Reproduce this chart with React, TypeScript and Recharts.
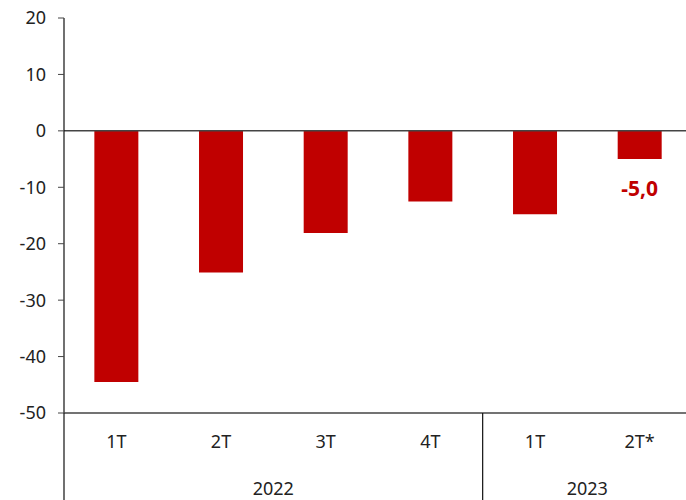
import { BarChart, Bar, XAxis, YAxis, ReferenceLine, LabelList } from 'recharts'

const QUARTERS = ['1T', '2T', '3T', '4T', '1T', '2T*']
const YEARS = ['2022', '2022', '2022', '2022', '2023', '2023']
const VALUES = [-44.5, -25.1, -18.1, -12.5, -14.8, -5.0]
const Y_TICKS = [-50, -40, -30, -20, -10, 0, 10, 20]

const W = 692
const H = 500
const Y_AXIS_W = 64
const BAND = (W - Y_AXIS_W) / QUARTERS.length
const FONT = '"Noto Sans", sans-serif'

const data = QUARTERS.map((q, i) => ({ quarter: q, year: YEARS[i], value: VALUES[i] }))

function QuarterTick(props: any) {
  const { x, index } = props
  const axisY = H - 87
  const q = QUARTERS[index]
  const year = YEARS[index]
  const firstOfYear = index === 0 || YEARS[index - 1] !== year
  const count = YEARS.filter(v => v === year).length
  return (
    <g>
      <text x={x} y={axisY + 28} textAnchor="middle" dominantBaseline="central"
        fill="#222" fontSize={18} fontFamily={FONT}>{q}</text>
      {firstOfYear && (
        <>
          <line x1={x - BAND / 2} x2={x - BAND / 2} y1={axisY} y2={H} stroke="#111" strokeWidth={1.2} />
          <text x={x - BAND / 2 + (BAND * count) / 2} y={axisY + 75} textAnchor="middle"
            dominantBaseline="central" fill="#222" fontSize={18} fontFamily={FONT}>{year}</text>
        </>
      )}
    </g>
  )
}

function LastLabel(props: any) {
  const { x, y, width, height, index, value } = props
  if (index !== VALUES.length - 1) return null
  const bottom = Math.max(y, y + height)
  return (
    <text x={x + width / 2} y={bottom + 29} textAnchor="middle" dominantBaseline="central"
      fill="#c00000" fontSize={21} fontWeight={700} fontFamily={FONT}>
      {value.toFixed(1).replace('.', ',')}
    </text>
  )
}

export default function App() {
  return (
    <div style={{ position: 'absolute', left: 0, top: 0, width: 686, height: 500, overflow: 'hidden', background: '#fff' }}>
      <BarChart width={W} height={H} data={data} margin={{ top: 18, right: 0, left: 0, bottom: 0 }} barCategoryGap="29%">
        <YAxis
          width={Y_AXIS_W}
          domain={[-50, 20]}
          ticks={Y_TICKS}
          interval={0}
          axisLine={{ stroke: '#111', strokeWidth: 1.2 }}
          tickLine={{ stroke: '#444' }}
          tickSize={6}
          tickMargin={12}
          tick={{ fill: '#222', fontSize: 18, fontFamily: FONT }}
        />
        <XAxis
          dataKey="quarter"
          height={87}
          interval={0}
          axisLine={{ stroke: '#444', strokeWidth: 1.5 }}
          tickLine={false}
          tick={<QuarterTick />}
        />
        <ReferenceLine y={0} stroke="#444" strokeWidth={1.5} />
        <Bar dataKey="value" fill="#c00000" isAnimationActive={false}>
          <LabelList dataKey="value" content={<LastLabel />} />
        </Bar>
      </BarChart>
    </div>
  )
}
